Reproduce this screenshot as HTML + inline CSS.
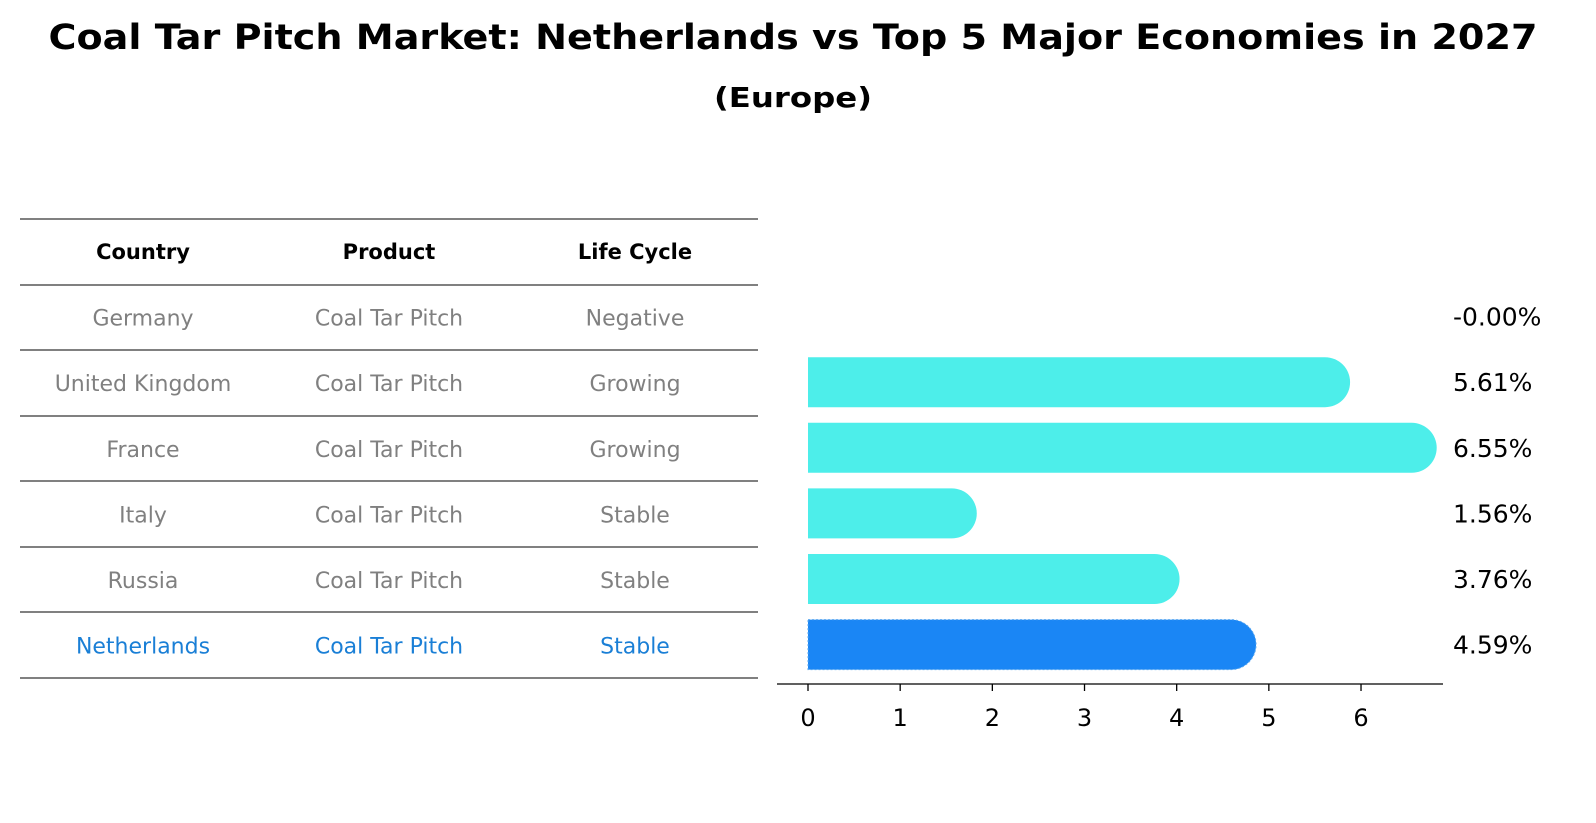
<!DOCTYPE html>
<html><head><meta charset="utf-8"><style>
html,body{margin:0;padding:0;background:#fff;width:100%;height:100%;overflow:hidden}
svg{position:absolute;left:0;top:0;width:100vw;height:100vh;display:block}
</style></head><body>
<svg viewBox="0 0 1596 823" preserveAspectRatio="none" xmlns="http://www.w3.org/2000/svg" font-family="DejaVu Sans, Liberation Sans, sans-serif">
<text x="793" y="49" text-anchor="middle" font-size="35" font-weight="bold" textLength="1489" lengthAdjust="spacingAndGlyphs">Coal Tar Pitch Market: Netherlands vs Top 5 Major Economies in 2027</text>
<text x="793" y="107" text-anchor="middle" font-size="28" font-weight="bold" textLength="158" lengthAdjust="spacingAndGlyphs">(Europe)</text>
<g id="table"></g>
<g id="chart"></g>
</svg>
<script>
const countries=["Germany","United Kingdom","France","Italy","Russia","Netherlands"];
const products=["Coal Tar Pitch","Coal Tar Pitch","Coal Tar Pitch","Coal Tar Pitch","Coal Tar Pitch","Coal Tar Pitch"];
const lifeCycles=["Negative","Growing","Growing","Stable","Stable","Stable"];
const values=[-0.00,5.61,6.55,1.56,3.76,4.59];
const valueLabels=["-0.00%","5.61%","6.55%","1.56%","3.76%","4.59%"];
const xTicks=[0,1,2,3,4,5,6];
const NS="http://www.w3.org/2000/svg";
function mk(tag,attrs,parent,txt){const e=document.createElementNS(NS,tag);for(const k in attrs)e.setAttribute(k,attrs[k]);if(txt!==undefined)e.textContent=txt;parent.appendChild(e);return e;}
const tbl=document.getElementById('table');
const lineYs=[219,285,350,416,481,547,612,678];
lineYs.forEach((y,i)=>{const l=mk('line',{x1:20,x2:758,y1:y,y2:y,stroke:'#000','stroke-width':1},tbl);

});
const colX=[143,389,635];
["Country","Product","Life Cycle"].forEach((h,i)=>{const t=mk('text',{x:colX[i],y:259,'text-anchor':'middle','font-size':21,'font-weight':'bold'},tbl,h);

});
function rowY(i){return 252+(i+1)*65.6;}
countries.forEach((c,i)=>{const col=i===countries.length-1?'#1a7fd6':'#808080';
[c,products[i],lifeCycles[i]].forEach((v,j)=>{const t=mk('text',{x:colX[j],y:rowY(i)+8,'text-anchor':'middle','font-size':22,fill:col},tbl,v);

});});
const ch=document.getElementById('chart');
const x0=808,unit=92.17;
function xs(v){return x0+v*unit;}
const r=25;
values.forEach((v,i)=>{const cy=rowY(i)-1;const nl=i===values.length-1;const col=nl?'#1a86f5':'#4deeea';
if(v>0){const w=xs(v)-x0;
const p=mk('path',{d:`M${x0},${cy-r} H${x0+w} A${r},${r} 0 0 1 ${x0+w},${cy+r} H${x0} Z`,fill:col},ch);
if(nl){p.setAttribute('stroke','#5aa8f0');p.setAttribute('stroke-dasharray','2,2');}

}
const t=mk('text',{x:1453,y:cy+9,'font-size':25},ch,valueLabels[i]);

});
const ax=mk('line',{x1:777,x2:1443,y1:684,y2:684,stroke:'#000','stroke-width':1.3},ch);


xTicks.forEach(t=>{const l=mk('line',{x1:xs(t),x2:xs(t),y1:684,y2:691,stroke:'#000','stroke-width':1.3},ch);


const tx=mk('text',{x:xs(t),y:726,'text-anchor':'middle','font-size':24},ch,String(t));

});
</script>
</body></html>
